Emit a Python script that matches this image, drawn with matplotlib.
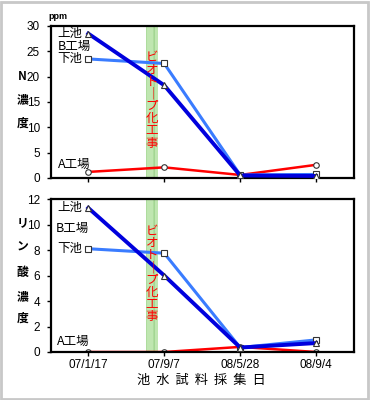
import matplotlib.pyplot as plt
from matplotlib.patches import Rectangle

plt.rcParams['font.family'] = ['Liberation Sans', 'Noto Sans CJK JP', 'DejaVu Sans']

#data
dates = ["07/1/17", "07/9/7", "08/5/28", "08/9/4"]

n_kami = [28.5, 18.3, 0.5, 0.4]
n_shimo = [23.5, 22.6, 0.6, 0.7]
n_a = [1.2, 2.1, 0.6, 2.6]

p_kami = [11.3, 6.0, 0.35, 0.7]
p_shimo = [8.1, 7.75, 0.35, 0.95]
p_a = [0.0, 0.0, 0.4, 0.0]

# band of the biotope work, between the 1st and 2nd sample
band = (0.76, 0.92)
work = "ビオト｜プ化工事"

dark = "#0000dd"
light = "#3a7cff"
red = "#ff0000"
cjk = ['Noto Sans CJK JP', 'DejaVu Sans']

fig = plt.figure(figsize=(3.7, 4.0), dpi=100)
fig.patches.append(Rectangle((0.003, 0.003), 0.991, 0.992, transform=fig.transFigure,
                             fill=False, edgecolor="#c8c8c8", linewidth=2))

ax1 = fig.add_axes([0.138, 0.555, 0.819, 0.38])
ax2 = fig.add_axes([0.138, 0.12, 0.819, 0.3825])
x = range(len(dates))


def panel(ax, kami, shimo, a, ymax, step):
    ax.axvspan(band[0], band[1], facecolor="#bfe6b0", edgecolor="#9fd48f",
               hatch="||", linewidth=0, zorder=0)
    ax.plot(x, shimo, color=light, lw=2.2, marker="s", ms=4.5, mfc="white",
            mec="#333333", mew=0.8, zorder=3)
    ax.plot(x, kami, color=dark, lw=2.8, marker="^", ms=4.5, mfc="white",
            mec="#333333", mew=0.8, zorder=4)
    ax.plot(x, a, color=red, lw=1.8, marker="o", ms=4, mfc="white",
            mec="#333333", mew=0.8, zorder=2)
    ax.set_xlim(-0.49, 3.5)
    ax.set_ylim(0, ymax)
    ax.set_yticks(range(0, ymax + 1, step))
    ax.set_xticks(list(x))
    for s in ax.spines.values():
        s.set_linewidth(1.6)
    ax.tick_params(axis="y", labelsize=8.5, length=3, width=1, pad=5)
    ax.tick_params(axis="x", labelsize=8.5, length=3, width=1, pad=2)
    # vertical text inside the band, one character at a time
    for i, ch in enumerate(work):
        ax.text(sum(band) / 2, 0.79 - i * 0.08, ch, transform=ax.get_xaxis_transform(),
                ha="center", va="center", color=red, fontsize=9, family=cjk, zorder=5)


panel(ax1, n_kami, n_shimo, n_a, 30, 5)
panel(ax2, p_kami, p_shimo, p_a, 12, 2)
ax1.set_xticklabels([])
ax2.set_xticklabels(dates)

# series labels
ax1.text(-0.08, n_kami[0], "上池", ha="right", va="center", fontsize=9, family=cjk)
ax1.text(-0.40, 25.9, "B工場", ha="left", va="center", fontsize=9, family=cjk)
ax1.text(-0.08, n_shimo[0], "下池", ha="right", va="center", fontsize=9, family=cjk)
ax1.text(0.03, 2.6, "A工場", ha="right", va="center", fontsize=9, family=cjk)

ax2.text(-0.08, p_kami[0], "上池", ha="right", va="center", fontsize=9, family=cjk)
ax2.text(-0.43, 9.7, "B工場", ha="left", va="center", fontsize=9, family=cjk)
ax2.text(-0.08, p_shimo[0], "下池", ha="right", va="center", fontsize=9, family=cjk)
ax2.text(-0.41, 0.85, "A工場", ha="left", va="center", fontsize=9, family=cjk)

fig.text(0.157, 0.958, "ppm", ha="center", va="center", fontsize=6.5, fontweight="bold")

# stacked y titles, one character per row (pixel rows from the top)
for ch, py in zip(["N", "濃", "度"], [77, 100, 123]):
    fig.text(0.06, 1 - py / 400, ch, ha="center", va="center", fontsize=8.5,
             family=cjk, fontweight="bold")
for ch, py in zip(["リ", "ン", "酸", "濃", "度"], [223, 247, 272, 297, 318]):
    fig.text(0.06, 1 - py / 400, ch, ha="center", va="center", fontsize=8.5,
             family=cjk, fontweight="bold")

fig.text(0.545, 0.05, "池  水  試  料  採  集  日", ha="center", va="center",
         fontsize=9.5, family=cjk)

fig.savefig("out.png", dpi=100)
